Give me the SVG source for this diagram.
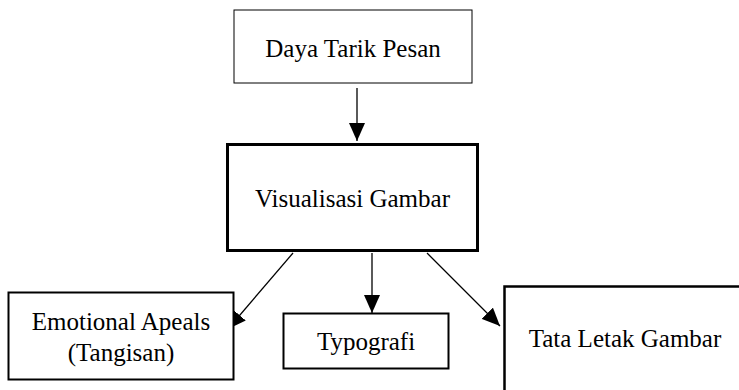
<svg xmlns="http://www.w3.org/2000/svg" width="739" height="390" viewBox="0 0 739 390">
<style>
.n{fill:#fff;stroke:#000}
text{font-family:"Liberation Serif","Times New Roman",serif;font-size:25px;fill:#000;text-anchor:middle}
.c{stroke:#000;stroke-width:1.3;fill:none;marker-end:url(#ah)}
</style>
<defs>
<marker id="ah" markerUnits="userSpaceOnUse" markerWidth="20" markerHeight="16" refX="18" refY="8" orient="auto">
<path d="M0,0 L18,8 L0,16 Z" fill="#000"/>
</marker>
</defs>
<rect width="739" height="390" fill="#fff"/>
<g id="connectors">
<line class="c" x1="357" y1="88" x2="357" y2="141"/>
<line class="c" x1="293" y1="253" x2="228" y2="329"/>
<line class="c" x1="372" y1="253" x2="372" y2="313"/>
<line class="c" x1="427" y1="253" x2="500" y2="326"/>
</g>
<g id="daya-tarik-pesan">
<rect class="n" x="234" y="10" width="238" height="73" stroke-width="1"/>
<text x="353" y="57">Daya Tarik Pesan</text>
</g>
<g id="visualisasi-gambar">
<rect class="n" x="227.5" y="144.5" width="250" height="106" stroke-width="3"/>
<text x="352.5" y="207">Visualisasi Gambar</text>
</g>
<g id="emotional-apeals">
<rect class="n" x="8.5" y="292.5" width="225" height="87" stroke-width="2"/>
<text x="121" y="330">Emotional Apeals</text>
<text x="121" y="361">(Tangisan)</text>
</g>
<g id="typografi">
<rect class="n" x="283.5" y="313.5" width="165" height="55" stroke-width="2"/>
<text x="366" y="350">Typografi</text>
</g>
<g id="tata-letak-gambar">
<rect class="n" x="504.5" y="286.5" width="240" height="110" stroke-width="2.5"/>
<text x="625" y="347">Tata Letak Gambar</text>
</g>
</svg>
